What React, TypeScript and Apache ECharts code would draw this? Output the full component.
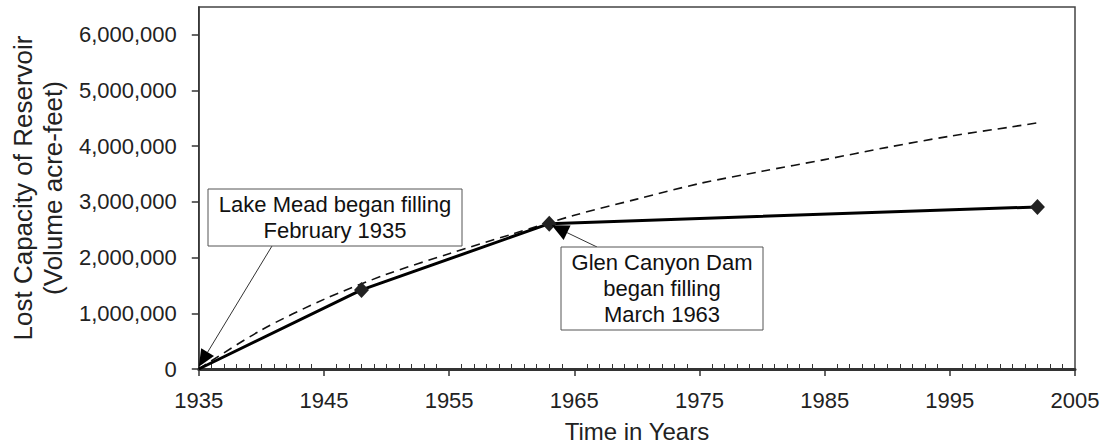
import React, { useEffect, useRef } from "react";
import * as echarts from "echarts";

// Projected (dashed) curve of lost capacity
const dashYears = [1935, 1940, 1945, 1950, 1955, 1960, 1965, 1970, 1975, 1980, 1985, 1990, 1995, 2000, 2002];
const dashValues = [0, 700000, 1250000, 1700000, 2070000, 2420000, 2760000, 3050000, 3330000, 3550000, 3760000, 3980000, 4180000, 4350000, 4420000];

// Measured (solid) lost capacity
const solidYears = [1935, 1948, 1963, 2002];
const solidValues = [0, 1420000, 2610000, 2910000];

const yTicks = [0, 1000000, 2000000, 3000000, 4000000, 5000000, 6000000];

const yTitle = "Lost Capacity of Reservoir\n(Volume acre-feet)";
const xTitle = "Time in Years";
const note1 = "Lake Mead began filling\nFebruary 1935";
const note2 = "Glen Canyon Dam\nbegan filling\nMarch 1963";
const note1Target = [1935.0, 40000];
const note2Target = [1963.2, 2580000];

const FONT = '"Liberation Sans", Arial, sans-serif';

export default function App() {
  const ref = useRef<HTMLDivElement>(null);
  useEffect(() => {
    document.body.style.margin = "0";
    const chart = echarts.init(ref.current!, null, { renderer: "svg" });
    const fmt = (v: number) => v.toLocaleString("en-US");
    chart.setOption({
      animation: false,
      backgroundColor: "#fff",
      grid: {
        left: 196,
        right: 29,
        top: 7,
        bottom: 75,
        show: true,
        borderColor: "#444",
        borderWidth: 1.5,
      },
      xAxis: {
        type: "value",
        min: 1935,
        max: 2005,
        interval: 10,
        name: xTitle,
        nameLocation: "middle",
        nameGap: 50,
        nameTextStyle: { fontSize: 24, color: "#222", fontFamily: FONT },
        axisLine: { show: true, lineStyle: { color: "#333", width: 3 } },
        axisTick: { show: true, length: 7, lineStyle: { color: "#333", width: 1.5 } },
        minorTick: { show: true, splitNumber: 10, length: -5, lineStyle: { color: "#333", width: 1 } },
        axisLabel: { fontSize: 22, color: "#222", fontFamily: FONT, margin: 20, formatter: (v: number) => String(v) },
        splitLine: { show: false },
        minorSplitLine: { show: false },
      },
      yAxis: {
        type: "value",
        min: 0,
        max: 6500000,
        interval: 1000000,
        name: yTitle,
        nameLocation: "middle",
        nameGap: 128,
        nameTextStyle: { fontSize: 26, lineHeight: 30, color: "#222", fontFamily: FONT },
        axisLine: { show: true, lineStyle: { color: "#333", width: 1.5 } },
        axisTick: { show: true, length: 7, lineStyle: { color: "#333", width: 1.5 }, customValues: yTicks },
        axisLabel: { fontSize: 22, color: "#222", fontFamily: FONT, margin: 22, customValues: yTicks, formatter: fmt },
        splitLine: { show: false },
      },
      series: [
        {
          type: "line",
          data: dashYears.map((y, i) => [y, dashValues[i]]),
          smooth: 0.3,
          showSymbol: false,
          symbol: "none",
          lineStyle: { color: "#111", width: 1.6, type: [9, 6] },
          z: 2,
        },
        {
          type: "line",
          data: solidYears.map((y, i) => ({
            value: [y, solidValues[i]],
            symbol: i === 0 ? "none" : "diamond",
          })),
          symbol: "diamond",
          symbolSize: [15, 16],
          itemStyle: { color: "#222" },
          lineStyle: { color: "#000", width: 3 },
          z: 3,
        },
      ],
    });

    const arrow = (from: number[], to: number[], L: number, W: number) => {
      const dx = to[0] - from[0];
      const dy = to[1] - from[1];
      const d = Math.hypot(dx, dy);
      const ux = dx / d, uy = dy / d;
      const bx = to[0] - ux * L, by = to[1] - uy * L;
      return [
        { type: "line", z: 100, shape: { x1: from[0], y1: from[1], x2: bx, y2: by }, style: { stroke: "#333", lineWidth: 1 } },
        { type: "polygon", z: 100, shape: { points: [[to[0], to[1]], [bx - uy * W, by + ux * W], [bx + uy * W, by - ux * W]] }, style: { fill: "#000" } },
      ];
    };
    const box = (x: number, y: number, w: number, h: number, text: string) => [
      { type: "rect", z: 101, shape: { x, y, width: w, height: h }, style: { fill: "#fff", stroke: "#555", lineWidth: 1 } },
      {
        type: "text", z: 102, x: x + w / 2, y: y + h / 2,
        style: { text, fontSize: 22, lineHeight: 26, fontFamily: FONT, fill: "#111", align: "center", verticalAlign: "middle", textAlign: "center", textVerticalAlign: "middle" },
      },
    ];
    const t1 = chart.convertToPixel({ seriesIndex: 1 }, note1Target) as number[];
    const t2 = chart.convertToPixel({ seriesIndex: 1 }, note2Target) as number[];
    chart.setOption({
      graphic: [
        ...arrow([272, 246], t1, 17, 7.5),
        ...arrow([597, 247], t2, 17, 8),
        ...box(208, 189, 254, 57, note1),
        ...box(561, 247, 202, 83, note2),
      ],
    });
    return () => chart.dispose();
  }, []);
  return <div ref={ref} style={{ width: 1104, height: 448 }} />;
}
